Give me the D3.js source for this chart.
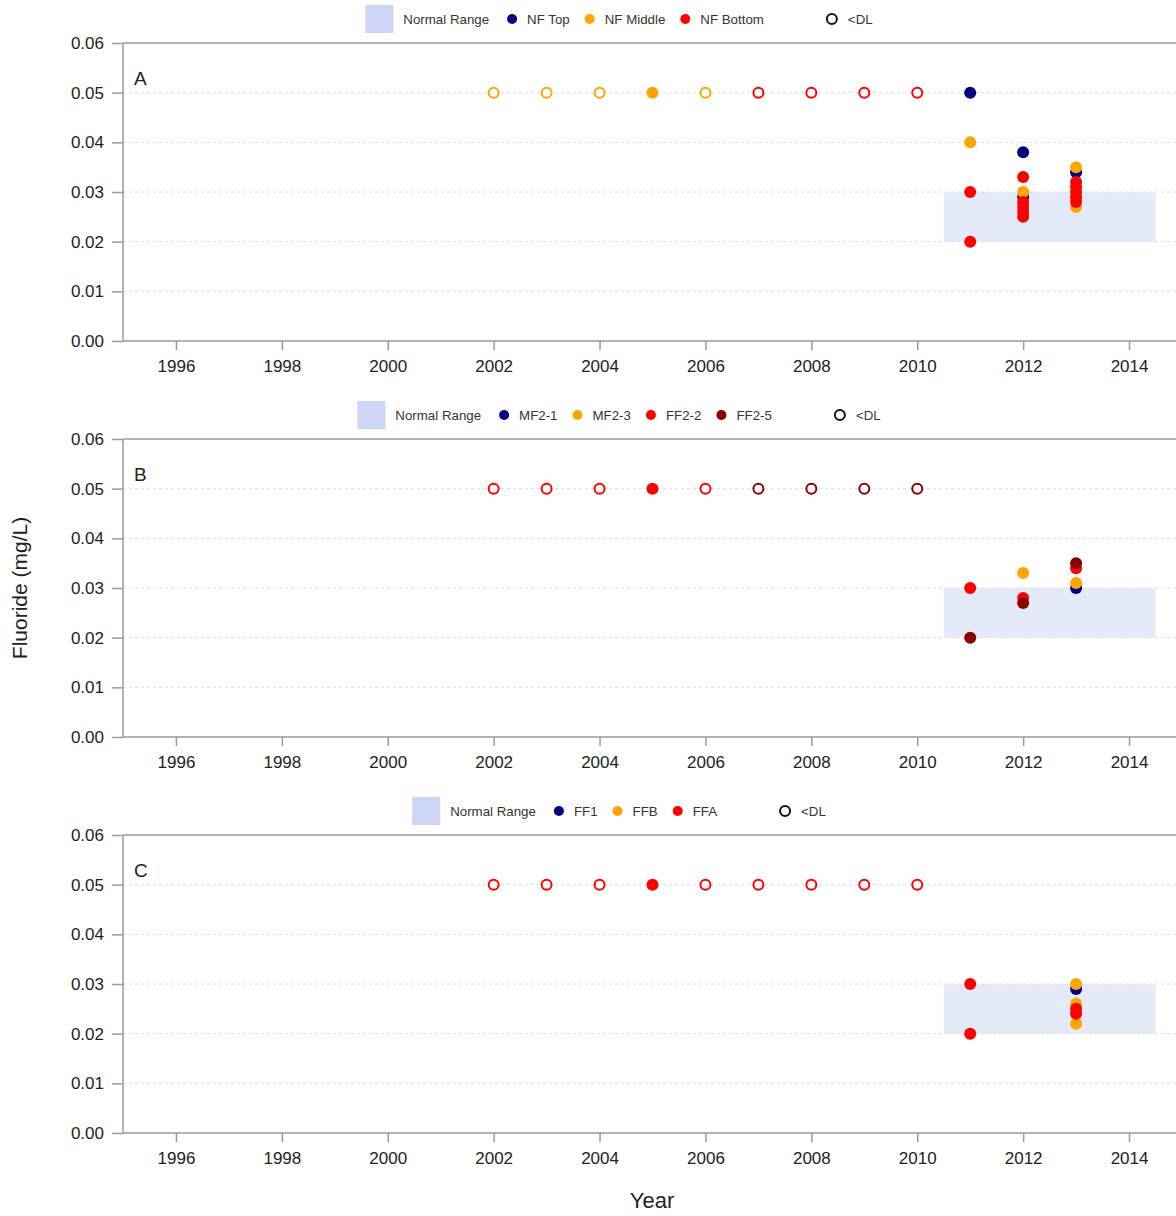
<!DOCTYPE html>
<html>
<head>
<meta charset="utf-8">
<script src="https://cdn.jsdelivr.net/npm/d3@7"></script>
<style>
  body { margin: 0; background: #fff; }
  svg { font-family: Arial, "Liberation Sans", sans-serif; display: block; }
</style>
</head>
<body>
<div id="chart"></div>
<script>
// axis ticks
var yearTicks = [1996, 1998, 2000, 2002, 2004, 2006, 2008, 2010, 2012, 2014];
var valueTicks = [0, 0.01, 0.02, 0.03, 0.04, 0.05, 0.06];
var normalRange = [0.02, 0.03];

// points are [year, value, belowDL]
// panel A
var nfTop = [[2011, 0.050], [2012, 0.038], [2012, 0.029], [2013, 0.034]];
var nfMiddle = [[2002, 0.05, 1], [2003, 0.05, 1], [2004, 0.05, 1], [2005, 0.05], [2006, 0.05, 1],
    [2011, 0.040], [2012, 0.030], [2013, 0.035], [2013, 0.029], [2013, 0.027]];
var nfBottom = [[2007, 0.05, 1], [2008, 0.05, 1], [2009, 0.05, 1], [2010, 0.05, 1],
    [2011, 0.030], [2011, 0.020], [2012, 0.033], [2012, 0.028], [2012, 0.027], [2012, 0.026], [2012, 0.025],
    [2013, 0.032], [2013, 0.031], [2013, 0.030], [2013, 0.029], [2013, 0.028]];

// panel B
var mf21 = [[2013, 0.030]];
var mf23 = [[2012, 0.033], [2013, 0.031]];
var ff22 = [[2002, 0.05, 1], [2003, 0.05, 1], [2004, 0.05, 1], [2005, 0.05], [2006, 0.05, 1],
    [2011, 0.030], [2012, 0.028], [2013, 0.034]];
var ff25 = [[2007, 0.05, 1], [2008, 0.05, 1], [2009, 0.05, 1], [2010, 0.05, 1],
    [2011, 0.020], [2012, 0.027], [2013, 0.035]];

// panel C
var ff1 = [[2013, 0.029]];
var ffb = [[2013, 0.030], [2013, 0.026], [2013, 0.022]];
var ffa = [[2002, 0.05, 1], [2003, 0.05, 1], [2004, 0.05, 1], [2005, 0.05], [2006, 0.05, 1],
    [2007, 0.05, 1], [2008, 0.05, 1], [2009, 0.05, 1], [2010, 0.05, 1],
    [2011, 0.030], [2011, 0.020], [2013, 0.025], [2013, 0.024]];

var panels = [
    {label: "A", series: [
        {name: "NF Top", color: "#000080", data: nfTop},
        {name: "NF Middle", color: "#FFA500", data: nfMiddle},
        {name: "NF Bottom", color: "#FF0000", data: nfBottom}]},
    {label: "B", series: [
        {name: "MF2-1", color: "#000080", data: mf21},
        {name: "MF2-3", color: "#FFA500", data: mf23},
        {name: "FF2-2", color: "#FF0000", data: ff22},
        {name: "FF2-5", color: "#8B0000", data: ff25}]},
    {label: "C", series: [
        {name: "FF1", color: "#000080", data: ff1},
        {name: "FFB", color: "#FFA500", data: ffb},
        {name: "FFA", color: "#FF0000", data: ffa}]}
];

var width = 1176, height = 1216;
var left = 123, right = 1182;
var panelTops = [43, 439, 835], panelH = 298;
var axisColor = "#9a9a9a", textColor = "#222";

var svg = d3.select("#chart").append("svg")
    .attr("width", width)
    .attr("height", height);

var x = d3.scaleLinear().domain([1995, 2015]).range([left, right]);

panels.forEach(function (p, i) {
    var top = panelTops[i];
    var y = d3.scaleLinear().domain([0, 0.06]).range([top + panelH, top]);
    var g = svg.append("g");

    // normal range band
    g.append("rect")
        .attr("x", x(2010.5))
        .attr("width", x(2014.5) - x(2010.5))
        .attr("y", y(normalRange[1]))
        .attr("height", y(normalRange[0]) - y(normalRange[1]))
        .attr("fill", "#e5eaf9");

    // dotted grid
    g.selectAll(".grid")
        .data(valueTicks.filter(function (v) { return v > 0 && v < 0.06; }))
        .enter().append("line")
        .attr("x1", left).attr("x2", right)
        .attr("y1", function (d) { return y(d); })
        .attr("y2", function (d) { return y(d); })
        .attr("stroke", "#dedede")
        .attr("stroke-dasharray", "3,3");

    // top frame line
    g.append("line").attr("x1", left).attr("x2", right)
        .attr("y1", y(0.06)).attr("y2", y(0.06))
        .attr("stroke", axisColor).attr("stroke-width", 1.5);

    var yAxis = g.append("g")
        .attr("transform", "translate(" + left + ",0)")
        .call(d3.axisLeft(y).tickValues(valueTicks).tickFormat(d3.format(".2f")).tickSize(11).tickPadding(8));
    var xAxis = g.append("g")
        .attr("transform", "translate(0," + (top + panelH) + ")")
        .call(d3.axisBottom(x).tickValues(yearTicks).tickFormat(d3.format("d")).tickSize(9).tickPadding(10));

    [yAxis, xAxis].forEach(function (a) {
        a.select(".domain").attr("stroke", axisColor).attr("stroke-width", 1.5);
        a.selectAll(".tick line").attr("stroke", axisColor).attr("stroke-width", 1.5);
        a.selectAll(".tick text").attr("fill", textColor).style("font-size", "17px");
    });
    xAxis.select(".domain").attr("d", "M" + left + ",0H" + right);
    yAxis.select(".domain").attr("d", "M0," + y(0.06) + "V" + y(0));

    // panel letter
    g.append("text")
        .attr("x", left + 11)
        .attr("y", y(0.0515))
        .attr("fill", textColor)
        .style("font-size", "19px")
        .text(p.label);

    // points
    p.series.forEach(function (s) {
        g.selectAll(null)
            .data(s.data)
            .enter().append("circle")
            .attr("cx", function (d) { return x(d[0]); })
            .attr("cy", function (d) { return y(d[1]); })
            .attr("r", function (d) { return d[2] ? 5 : 6; })
            .attr("fill", function (d) { return d[2] ? "#fff" : s.color; })
            .attr("stroke", function (d) { return d[2] ? s.color : "none"; })
            .attr("stroke-width", 2);
    });

    // legend, centred on a fixed x
    var ly = top - 24;
    var leg = g.append("g");
    var cx = 0;
    leg.append("rect").attr("x", cx).attr("y", ly - 14).attr("width", 28).attr("height", 28)
        .attr("fill", "#cdd6f6");
    cx += 38;
    var t = leg.append("text").attr("x", cx).attr("y", ly + 4.5)
        .attr("fill", "#333").style("font-size", "13.3px").text("Normal Range");
    cx += t.node().getComputedTextLength() + 23;
    p.series.forEach(function (s) {
        leg.append("circle").attr("cx", cx).attr("cy", ly).attr("r", 5).attr("fill", s.color);
        var tt = leg.append("text").attr("x", cx + 15).attr("y", ly + 4.5)
            .attr("fill", "#333").style("font-size", "13.3px").text(s.name);
        cx += 15 + tt.node().getComputedTextLength() + 20;
    });
    cx += 48;
    leg.append("circle").attr("cx", cx).attr("cy", ly).attr("r", 5)
        .attr("fill", "none").attr("stroke", "#111").attr("stroke-width", 2);
    var dl = leg.append("text").attr("x", cx + 16).attr("y", ly + 4.5)
        .attr("fill", "#333").style("font-size", "13.3px").text("<DL");
    var total = cx + 16 + dl.node().getComputedTextLength();
    leg.attr("transform", "translate(" + (619 - total / 2) + ",0)");
});

// axis titles
svg.append("text")
    .attr("transform", "translate(27,588) rotate(-90)")
    .attr("text-anchor", "middle")
    .attr("fill", textColor)
    .style("font-size", "21px")
    .text("Fluoride (mg/L)");

svg.append("text")
    .attr("x", 652).attr("y", 1208)
    .attr("text-anchor", "middle")
    .attr("fill", textColor)
    .style("font-size", "22px")
    .text("Year");
</script>
</body>
</html>
